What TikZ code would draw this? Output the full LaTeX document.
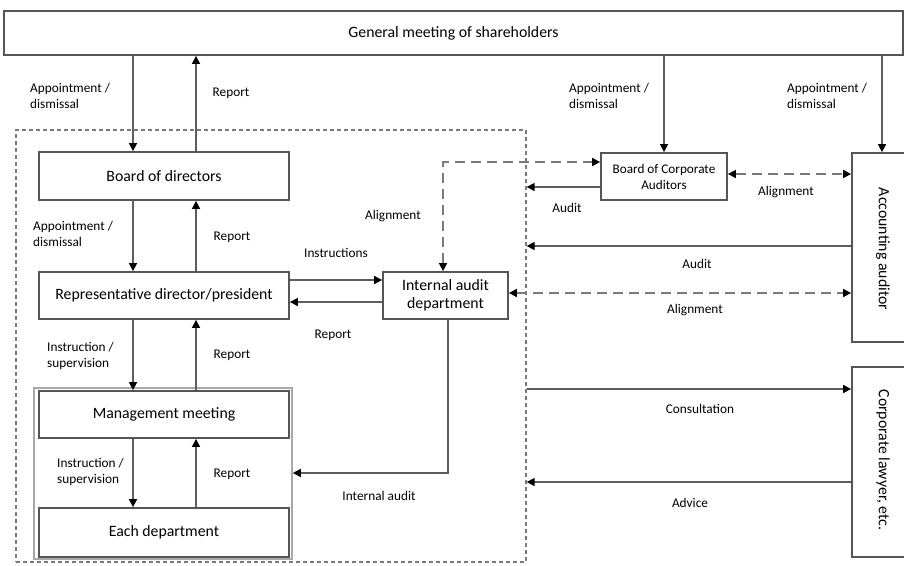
\documentclass[tikz,border=0pt]{standalone}
\usepackage{fontspec}
\setmainfont{Carlito}
\usetikzlibrary{arrows.meta}
\definecolor{boxgray}{HTML}{555555}
\definecolor{linegray}{HTML}{5E5E5E}
\definecolor{dashgray}{HTML}{7A7A7A}
\definecolor{innergray}{HTML}{A8A8A8}
\begin{document}
\begin{tikzpicture}[x=1pt,y=-1pt,
  box/.style={draw=boxgray,line width=1.8pt,fill=white,inner sep=0pt,align=center,font=\fontsize{15.8}{18}\selectfont},
  sbox/.style={box,font=\fontsize{13.2}{16}\selectfont},
  lbl/.style={inner sep=0pt,align=left,font=\fontsize{13.3}{15.5}\selectfont},
  vtxt/.style={inner sep=0pt,rotate=-90,font=\fontsize{15.8}{18}\selectfont},
  arr/.style={draw=linegray,line width=1.6pt,-{Triangle[length=8pt,width=8pt,color=black]}},
  dasharr/.style={draw=dashgray,line width=1.6pt,dash pattern=on 10pt off 6pt,{Triangle[length=8pt,width=8pt,color=black]}-{Triangle[length=8pt,width=8pt,color=black]}},
  orgbox/.style={draw=dashgray,line width=1.3pt,dash pattern=on 4pt off 3pt,inner sep=0pt},
  mgrbox/.style={draw=innergray,line width=1.6pt,inner sep=0pt}
]
\useasboundingbox (0,0) rectangle (904,565);
\fill[white] (0,0) rectangle (904,565);

% helper coordinates
\coordinate (cA) at (133,0);
\coordinate (cB) at (196,0);
\coordinate (cD) at (882,0);
\coordinate (cE) at (443,0);
\coordinate (cF) at (448,0);
\coordinate (y162) at (0,162);
\coordinate (y174) at (0,174);
\coordinate (y187) at (0,187);
\coordinate (y246) at (0,246);
\coordinate (y280) at (0,280);
\coordinate (y293) at (0,293);
\coordinate (y302) at (0,302);
\coordinate (y389) at (0,389);
\coordinate (y473) at (0,473);
\coordinate (y482) at (0,482);

% grouping boxes
\node[orgbox,minimum width=510,minimum height=432] (org) at (271,346) {};
\node[mgrbox,minimum width=258,minimum height=171] (mgr) at (163,473.5) {};

% main boxes
\node[box,minimum width=899,minimum height=44] (gm) at (453.5,33) {General meeting of shareholders};
\node[box,minimum width=250,minimum height=48] (bod) at (164,176) {Board of directors};
\node[box,minimum width=250,minimum height=47] (rep) at (164,295.5) {Representative director/president};
\node[box,minimum width=250,minimum height=47] (mm) at (164,414.5) {Management meeting};
\node[box,minimum width=250,minimum height=49] (ed) at (164,532.5) {Each department};
\node[box,minimum width=125,minimum height=47] (iad) at (445.5,295.5) {Internal audit\\department};
\node[sbox,minimum width=126,minimum height=47] (bca) at (664,176.5) {Board of Corporate\\Auditors};
\node[box,minimum width=60,minimum height=189] (aa) at (882,247.5) {};
\node[vtxt] (aat) at (883,249) {Accounting auditor};
\node[box,minimum width=60,minimum height=190] (cl) at (882,462) {};
\node[vtxt] (clt) at (883,460) {Corporate lawyer, etc.};

% vertical connectors
\draw[arr] (gm.south -| cA) -- (bod.north -| cA);
\draw[arr] (bod.north -| cB) -- (gm.south -| cB);
\draw[arr] (bod.south -| cA) -- (rep.north -| cA);
\draw[arr] (rep.north -| cB) -- (bod.south -| cB);
\draw[arr] (rep.south -| cA) -- (mm.north -| cA);
\draw[arr] (mm.north -| cB) -- (rep.south -| cB);
\draw[arr] (mm.south -| cA) -- (ed.north -| cA);
\draw[arr] (ed.north -| cB) -- (mm.south -| cB);
\draw[arr] (gm.south -| bca.north) -- (bca.north);
\draw[arr] (gm.south -| cD) -- (aa.north -| cD);

% horizontal connectors
\draw[arr] (rep.east |- y280) -- (iad.west |- y280);
\draw[arr] (iad.west |- y302) -- (rep.east |- y302);
\draw[dasharr] (bca.west |- y162) -| (iad.north -| cE);
\draw[arr] (bca.west |- y187) -- (org.east |- y187);
\draw[dasharr] (bca.east |- y174) -- (aa.west |- y174);
\draw[arr] (aa.west |- y246) -- (org.east |- y246);
\draw[dasharr] (iad.east |- y293) -- (aa.west |- y293);
\draw[arr] (iad.south -| cF) |- (mgr.east |- y473);
\draw[arr] (org.east |- y389) -- (cl.west |- y389);
\draw[arr] (cl.west |- y482) -- (org.east |- y482);

% labels
\node[lbl,anchor=west] (l1) at (30,96) {Appointment /\\dismissal};
\node[lbl] (l2) at (231,93) {Report};
\node[lbl,anchor=west] (l3) at (569,96) {Appointment /\\dismissal};
\node[lbl,anchor=west] (l4) at (787,96) {Appointment /\\dismissal};
\node[lbl,anchor=west] (l5) at (33,234) {Appointment /\\dismissal};
\node[lbl] (l6) at (232,237) {Report};
\node[lbl,anchor=west] (l7) at (47,356) {Instruction /\\supervision};
\node[lbl] (l8) at (232,355) {Report};
\node[lbl,anchor=west] (l9) at (57,472) {Instruction /\\supervision};
\node[lbl] (l10) at (232,474) {Report};
\node[lbl] (l11) at (393,216) {Alignment};
\node[lbl] (l12) at (336,253) {Instructions};
\node[lbl] (l13) at (333,335) {Report};
\node[lbl] (l14) at (379,496) {Internal audit};
\node[lbl] (l15) at (567,208) {Audit};
\node[lbl] (l16) at (786,192) {Alignment};
\node[lbl] (l17) at (697,264) {Audit};
\node[lbl] (l18) at (695,310) {Alignment};
\node[lbl] (l19) at (700,409) {Consultation};
\node[lbl] (l20) at (690,503) {Advice};
\end{tikzpicture}
\end{document}
